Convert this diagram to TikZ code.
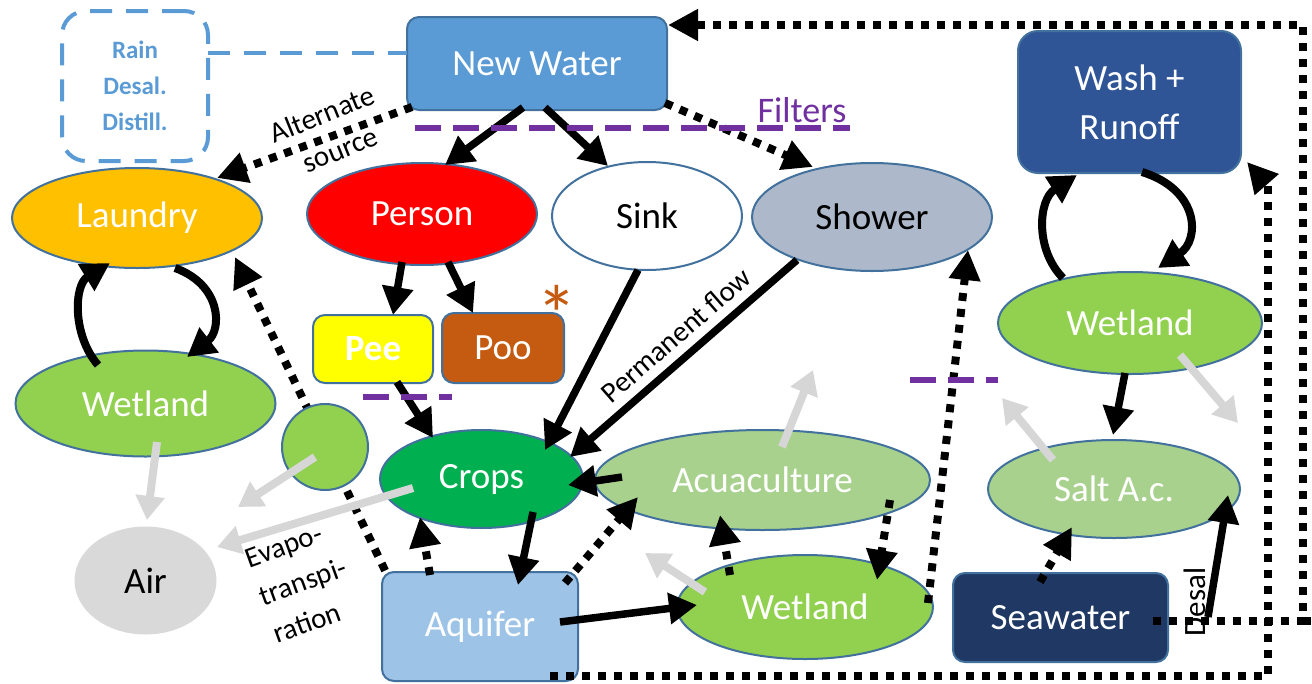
\documentclass[tikz,border=0pt]{standalone}
\usepackage{fontspec}
\setmainfont{Carlito}
\usetikzlibrary{arrows.meta,shapes.geometric,calc}
\definecolor{bordc}{HTML}{41719C}
\definecolor{nwfill}{HTML}{5B9BD5}
\definecolor{raintxt}{HTML}{5B9BD5}
\definecolor{laundryc}{HTML}{FFC000}
\definecolor{personc}{HTML}{FF0000}
\definecolor{showerc}{HTML}{ADB9CA}
\definecolor{washc}{HTML}{2F5597}
\definecolor{peec}{HTML}{FFFF00}
\definecolor{pooc}{HTML}{C55A11}
\definecolor{wetc}{HTML}{92D050}
\definecolor{cropc}{HTML}{00B050}
\definecolor{lgreen}{HTML}{A9D18E}
\definecolor{airc}{HTML}{D9D9D9}
\definecolor{aqc}{HTML}{9DC3E6}
\definecolor{seac}{HTML}{1F3864}
\definecolor{purp}{HTML}{7030A0}
\definecolor{astc}{HTML}{C55A11}
\definecolor{grayarr}{HTML}{D6D6D6}
\newcommand\NFont{\fontsize{37}{42}\selectfont}
\newcommand\LFont{\fontsize{29}{37}\selectfont}
\pgfdeclarelayer{bg}
\pgfsetlayers{bg,main}
\begin{document}
\begin{tikzpicture}[x=1pt,y=-1pt,
  box/.style={draw=bordc, line width=2pt, rounded corners=12pt, inner sep=0pt, text=white, font=\NFont, align=center},
  ell/.style={ellipse, draw=bordc, line width=2pt, inner sep=0pt, text=white, font=\NFont},
  blk/.style={draw=black, line width=7.5pt, -{Triangle[length=28pt,width=30pt]}},
  dot/.style={draw=black, line width=8pt, dash pattern=on 8pt off 8pt, -{Triangle[length=30pt,width=30pt]}},
  dotline/.style={draw=black, line width=8pt, dash pattern=on 8pt off 8pt},
  gry/.style={draw=grayarr, line width=8pt, -{Triangle[length=24pt,width=28pt]}},
  pdash/.style={draw=purp, line width=5.5pt, dash pattern=on 26pt off 12pt},
  lbl/.style={font=\LFont, text=black, inner sep=0pt}
]
\useasboundingbox (0,0) rectangle (1312,683);

% nodes
\node[box, fill=none, draw=nwfill, line width=4pt, dash pattern=on 22pt off 14pt, rounded corners=24pt,
      minimum width=146pt, minimum height=150pt, text=raintxt,
      font=\bfseries\fontsize{25}{36}\selectfont] (rain) at (135,86) {Rain\\Desal.\\Distill.};
\node[box, fill=nwfill, minimum width=260pt, minimum height=93pt] (nw) at (537,63.5) {New Water};
\node[ell, fill=laundryc, minimum width=250pt, minimum height=100pt] (laundry) at (137,218) {Laundry};
\node[ell, fill=personc, minimum width=230pt, minimum height=102pt] (person) at (422,214) {Person};
\node[ell, fill=white, text=black, minimum width=190pt, minimum height=108pt] (sink) at (647,216) {Sink};
\node[ell, fill=showerc, text=black, minimum width=240pt, minimum height=108pt] (shower) at (872,217) {Shower};
\node[box, fill=washc, minimum width=223pt, minimum height=142pt, rounded corners=20pt] (wash) at (1129.5,102) {Wash +\\[7pt]Runoff};
\node[box, fill=peec, minimum width=120pt, minimum height=68pt, font=\bfseries\NFont] (pee) at (373,349) {Pee};
\node[box, fill=pooc, minimum width=122pt, minimum height=70pt] (poo) at (503,348) {Poo};
\node[font=\fontsize{82}{82}\selectfont, text=astc, inner sep=0pt] (ast) at (557,314) {*};
\node[ell, fill=wetc, minimum width=260pt, minimum height=106pt] (wl) at (145.5,403.5) {Wetland};
\node[ell, fill=cropc, minimum width=203pt, minimum height=98pt] (crops) at (481.5,479) {Crops};
\node[ell, fill=lgreen, minimum width=335pt, minimum height=100pt] (acua) at (762.5,480) {Acuaculture};
\node[ell, fill=wetc, minimum width=264pt, minimum height=102pt] (wr) at (1130,323) {Wetland};
\node[ell, fill=lgreen, minimum width=252pt, minimum height=98pt] (salt) at (1114,489) {Salt A.c.};
\node[ell, fill=airc, draw=airc, text=black, minimum width=140pt, minimum height=106pt] (air) at (145.5,580.5) {Air};
\node[box, fill=aqc, minimum width=196pt, minimum height=109pt] (aq) at (480,626.5) {Aquifer};
\node[ell, fill=wetc, minimum width=256pt, minimum height=104pt] (wb) at (805,607) {Wetland};
\node[box, fill=seac, minimum width=215pt, minimum height=89pt] (sw) at (1060.5,617.5) {Seawater};

% dotted line passing under the small circle
\begin{pgfonlayer}{bg}
\draw[dot] ($(aq)+(-88,-41.5)$) -- ($(laundry)+(98,39)$);
\end{pgfonlayer}
\node[circle, draw=bordc, line width=2pt, fill=wetc, minimum size=86pt, inner sep=0pt] (circ) at (325,447) {};

% labels
\node[lbl, rotate=22] (alt1) at (322,114) {Alternate};
\node[lbl, rotate=22] (alt2) at (341,152) {source};
\node[lbl, rotate=41] (perm) at (676,335) {Permanent flow};
\node[lbl, rotate=20, align=left] (evap) at (303,582) {Evapo-\\[3pt]transpi-\\[3pt]ration};
\node[lbl, rotate=90, font=\fontsize{31}{37}\selectfont] (desal) at (1195,602) {Desal};
\node[font=\fontsize{36}{40}\selectfont, text=purp, inner sep=0pt] (filters) at (802,110) {Filters};

% blue dashed connector
\draw[draw=nwfill, line width=4pt, dash pattern=on 22pt off 14pt] ($(rain)+(73,-33)$) -- ($(nw)+(-130,-10.5)$);

% solid black arrows
\draw[blk] ($(nw)+(-14,44)$) -- ($(person)+(23,-49)$);
\draw[blk] ($(nw)+(8,44)$) -- ($(sink)+(-39,-50)$);
\draw[blk] ($(person)+(-20,48)$) -- ($(pee)+(20,-34)$);
\draw[blk] ($(person)+(26,48)$) -- ($(poo)+(-30,-35)$);
\draw[blk] ($(pee)+(24,33)$) -- ($(crops)+(-48.5,-41)$);
\draw[blk] ($(sink)+(-9,54)$) -- ($(crops)+(63.5,-29)$);
\draw[blk] ($(shower)+(-75,43)$) -- ($(crops)+(88.5,-22)$);
\draw[blk] ($(acua)+(-140.5,-3)$) -- ($(crops)+(86.5,6)$);
\draw[blk] ($(crops)+(51.5,33)$) -- ($(aq)+(38,-41.5)$);
\draw[blk] ($(aq)+(80,-4.5)$) -- ($(wb)+(-108,-2)$);
\draw[blk] ($(wr)+(-5,50)$) -- ($(salt)+(-1,-54)$);
\draw[blk] ($(sw)+(147.5,-0.5)$) -- ($(salt)+(114,6)$);
\draw[blk, line width=8pt] ($(wr)+(-67,-45)$) .. controls (1035,250) and (1038,200) .. ($(wash)+(-52.5,73)$);
\draw[blk, line width=8pt] ($(wash)+(12.5,70)$) .. controls (1200,190) and (1200,240) .. ($(wr)+(28,-55)$);
\draw[blk, line width=8pt] ($(wl)+(-47.5,-38.5)$) .. controls (72,335) and (74,285) .. ($(laundry)+(-27,45)$);
\draw[blk, line width=8pt] ($(laundry)+(38,50)$) .. controls (222,285) and (222,330) .. ($(wl)+(41.5,-46.5)$);

% dotted arrows
\draw[dot] ($(nw)+(-125,43.5)$) -- ($(laundry)+(80,-40)$);
\draw[dot] ($(nw)+(128,39.5)$) -- ($(shower)+(-59,-50)$);
\draw[dot] ($(aq)+(-50,-51.5)$) -- ($(crops)+(-61.5,38)$);
\draw[dot] ($(aq)+(85,-43.5)$) -- ($(acua)+(-124.5,17)$);
\draw[dot] ($(wb)+(-75,-32)$) -- ($(acua)+(-42.5,35)$);
\draw[dot] ($(acua)+(127.5,20)$) -- ($(wb)+(72,-27)$);
\draw[dot] ($(wb)+(123,-4)$) -- ($(shower)+(96,33)$);
\draw[dot] ($(sw)+(-20.5,-35.5)$) -- ($(salt)+(-42,38)$);
\draw[dot] ($(aq)+(70,49.5)$) -- (1268,676) -- (1268,186) -- ($(wash)+(117.5,60)$);
\draw[dot] ($(sw)+(92.5,3.5)$) -- (1303,621) -- (1303,25) -- ($(nw)+(131,-38.5)$);
\draw[dotline] (1303,621) -- (1312,621);

% gray arrows
\draw[gry] ($(wl)+(11.5,38.5)$) -- ($(air)+(1.5,-60.5)$);
\draw[gry] ($(circ)+(-10,10)$) -- ++(-77,50);
\draw[gry] ($(crops)+(-68.5,9)$) -- ($(air)+(71.5,-33.5)$);
\draw[gry] ($(acua)+(19.5,-33)$) -- ++(31,-77);
\draw[gry] ($(wb)+(-100,-15)$) -- ++(-60,-39);
\draw[gry] ($(salt)+(-61,-29)$) -- ++(-51,-62);
\draw[gry] ($(wr)+(50,32)$) -- ++(58,68);

% purple filter lines
\draw[pdash] (415,128) -- (850,128);
\draw[pdash] (363,397) -- (452,397);
\draw[pdash] (910,380) -- (998,380);
\end{tikzpicture}
\end{document}
